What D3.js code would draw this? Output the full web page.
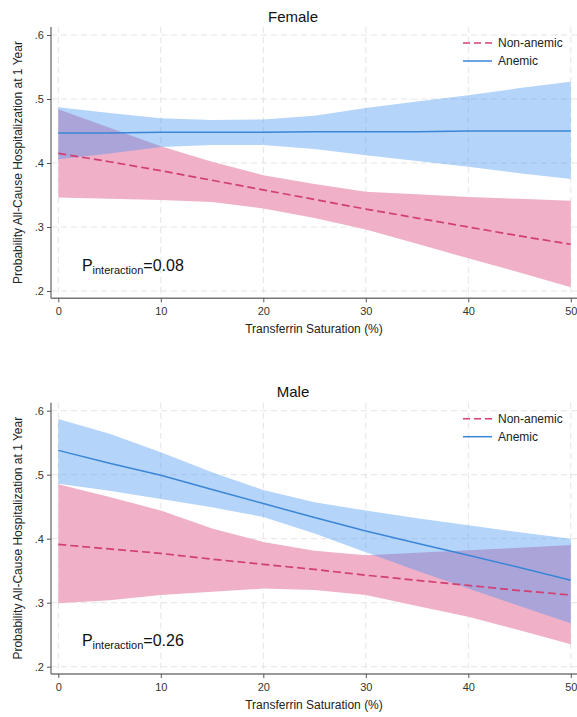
<!DOCTYPE html>
<html>
<head>
<meta charset="utf-8">
<script src="https://cdn.jsdelivr.net/npm/d3@7"></script>
<style>
  body { margin: 0; background: #fff; }
  svg { display: block; font-family: "Liberation Sans", Arial, sans-serif; }
</style>
</head>
<body>
<div id="chart"></div>
<script>
// Transferrin saturation (%) values where the margins were evaluated
const xValues = [0, 5, 10, 15, 20, 25, 30, 35, 40, 45, 50];
const xTicks = [0, 10, 20, 30, 40, 50];
const yTicks = [0.2, 0.3, 0.4, 0.5, 0.6];
const yTickLabels = ['.2', '.3', '.4', '.5', '.6'];
const seriesNames = ['Non-anemic', 'Anemic'];
const panelTitles = ['Female', 'Male'];
const pInteraction = ['0.08', '0.26'];

// Female
const femaleAnemicFit = [0.447, 0.447, 0.448, 0.448, 0.448, 0.449, 0.449, 0.449, 0.450, 0.450, 0.450];
const femaleAnemicHi  = [0.487, 0.478, 0.470, 0.467, 0.468, 0.474, 0.486, 0.496, 0.506, 0.517, 0.527];
const femaleAnemicLo  = [0.406, 0.415, 0.425, 0.428, 0.428, 0.422, 0.412, 0.403, 0.394, 0.384, 0.375];
const femaleNonFit = [0.415, 0.402, 0.388, 0.373, 0.358, 0.343, 0.328, 0.314, 0.300, 0.286, 0.273];
const femaleNonHi  = [0.484, 0.455, 0.426, 0.402, 0.381, 0.367, 0.355, 0.351, 0.347, 0.344, 0.341];
const femaleNonLo  = [0.346, 0.344, 0.342, 0.339, 0.329, 0.314, 0.296, 0.274, 0.251, 0.229, 0.206];

// Male
const maleAnemicFit = [0.538, 0.518, 0.499, 0.477, 0.455, 0.433, 0.412, 0.393, 0.374, 0.355, 0.335];
const maleAnemicHi  = [0.587, 0.564, 0.535, 0.504, 0.476, 0.457, 0.444, 0.432, 0.421, 0.410, 0.400];
const maleAnemicLo  = [0.486, 0.475, 0.462, 0.449, 0.434, 0.408, 0.379, 0.350, 0.322, 0.295, 0.268];
const maleNonFit = [0.391, 0.384, 0.377, 0.368, 0.360, 0.352, 0.343, 0.335, 0.327, 0.319, 0.312];
const maleNonHi  = [0.485, 0.465, 0.444, 0.416, 0.395, 0.381, 0.374, 0.378, 0.382, 0.386, 0.390];
const maleNonLo  = [0.299, 0.304, 0.312, 0.317, 0.322, 0.320, 0.312, 0.295, 0.278, 0.257, 0.235];

const width = 577, height = 717;
const pink = '#efb0c8', pinkLine = '#d23f72';
const blue = 'rgb(67,147,242)', blueLine = '#3a86d6';

const svg = d3.select('#chart').append('svg')
    .attr('width', width)
    .attr('height', height);

const panels = [
    { top: 0, anemic: [femaleAnemicFit, femaleAnemicLo, femaleAnemicHi], non: [femaleNonFit, femaleNonLo, femaleNonHi] },
    { top: 375.7, anemic: [maleAnemicFit, maleAnemicLo, maleAnemicHi], non: [maleNonFit, maleNonLo, maleNonHi] }
];

panels.forEach((p, k) => {
    const g = svg.append('g').attr('transform', `translate(0,${p.top})`);
    const axisLeft = 51, axisBottom = 298.3, plotTop = 27, plotRight = 577;

    const x = d3.scaleLinear().domain([0, 50]).range([58.3, 570.8]);
    const y = d3.scaleLinear().domain([0.2, 0.6]).range([291, 35]);

    // grid
    g.selectAll('.ygrid').data(yTicks).enter().append('line')
        .attr('x1', axisLeft).attr('x2', plotRight)
        .attr('y1', d => y(d)).attr('y2', d => y(d))
        .attr('stroke', '#e4e4e4').attr('stroke-dasharray', '6,4');
    g.selectAll('.xgrid').data(xTicks).enter().append('line')
        .attr('x1', d => x(d)).attr('x2', d => x(d))
        .attr('y1', plotTop).attr('y2', axisBottom)
        .attr('stroke', '#e4e4e4').attr('stroke-dasharray', '6,4');

    const band = (lo, hi) => d3.area()
        .x((d, i) => x(xValues[i]))
        .y0((d, i) => y(lo[i]))
        .y1((d, i) => y(hi[i]))(xValues);
    const fit = vals => d3.line()
        .x((d, i) => x(xValues[i]))
        .y((d, i) => y(vals[i]))(xValues);

    // confidence bands
    g.append('path').attr('d', band(p.non[1], p.non[2])).attr('fill', pink);
    g.append('path').attr('d', band(p.anemic[1], p.anemic[2])).attr('fill', blue).attr('fill-opacity', 0.4);

    // fitted lines
    g.append('path').attr('d', fit(p.non[0]))
        .attr('fill', 'none').attr('stroke', pinkLine).attr('stroke-width', 1.7)
        .attr('stroke-dasharray', '8,4');
    g.append('path').attr('d', fit(p.anemic[0]))
        .attr('fill', 'none').attr('stroke', blueLine).attr('stroke-width', 1.5);

    // axes
    const yAxis = g.append('g').attr('transform', `translate(${axisLeft},0)`)
        .call(d3.axisLeft(y).tickValues(yTicks).tickFormat((d, i) => yTickLabels[i]).tickSize(4).tickPadding(3));
    yAxis.select('.domain').attr('d', `M0,${plotTop}V${axisBottom}`).attr('stroke', '#444');
    const xAxis = g.append('g').attr('transform', `translate(0,${axisBottom})`)
        .call(d3.axisBottom(x).tickValues(xTicks).tickSize(4).tickPadding(5));
    xAxis.select('.domain').attr('d', `M${axisLeft},0H${plotRight}`).attr('stroke', '#777').attr('stroke-width', 1.5);
    [yAxis, xAxis].forEach(a => {
        a.selectAll('.tick line').attr('stroke', '#555');
        a.selectAll('.tick text').attr('fill', '#333').style('font-size', '11px')
            .style('font-family', '"Liberation Sans", Arial, sans-serif');
    });

    // titles
    g.append('text').attr('x', 293).attr('y', 21.5).attr('text-anchor', 'middle')
        .style('font-size', '15px').attr('fill', '#111').text(panelTitles[k]);
    g.append('text').attr('x', 314).attr('y', 333).attr('text-anchor', 'middle')
        .style('font-size', '12px').attr('fill', '#222').text('Transferrin Saturation (%)');
    g.append('text').attr('transform', `translate(22,162.5) rotate(-90)`)
        .attr('text-anchor', 'middle').style('font-size', '12px').attr('fill', '#222')
        .text('Probability All-Cause Hospitalization at 1 Year');

    // legend
    const legend = g.append('g').attr('transform', 'translate(463,43)');
    legend.append('line').attr('x1', 0).attr('x2', 29).attr('y1', 0).attr('y2', 0)
        .attr('stroke', pinkLine).attr('stroke-width', 1.5).attr('stroke-dasharray', '7,4');
    legend.append('line').attr('x1', 0).attr('x2', 29).attr('y1', 18).attr('y2', 18)
        .attr('stroke', blueLine).attr('stroke-width', 1.5);
    legend.selectAll('text').data(seriesNames).enter().append('text')
        .attr('x', 35).attr('y', (d, i) => i * 18 + 4.3)
        .style('font-size', '12px').attr('fill', '#222').text(d => d);

    // p for interaction
    const pt = g.append('text').attr('x', x(2.3)).attr('y', y(0.232))
        .style('font-size', '16px').attr('fill', '#111');
    pt.append('tspan').text('P');
    pt.append('tspan').attr('dy', 3).style('font-size', '11px').text('interaction');
    pt.append('tspan').attr('dy', -3).text('=' + pInteraction[k]);
});
</script>
</body>
</html>
